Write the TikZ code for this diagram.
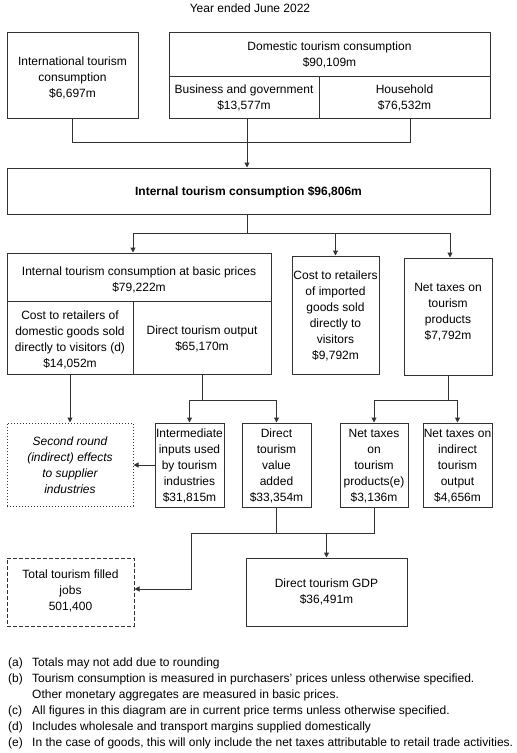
\documentclass[tikz,border=0pt]{standalone}
\usepackage{fontspec}
\setmainfont{Liberation Sans}
\usetikzlibrary{arrows.meta}
\definecolor{lc}{gray}{0.2}
% multi-line centred text, lowered by #1 pt inside its box
\newcommand\tx[2][0]{\raisebox{-#1pt}[\height][\depth]{\begin{tabular}{@{}c@{}}#2\end{tabular}}}
\begin{document}
\begin{tikzpicture}[x=1pt,y=-1pt,
  box/.style={draw=lc, line width=1pt, inner sep=0pt,
    font=\fontsize{12}{16}\selectfont, text=black},
  ln/.style={draw=lc, line width=1pt},
  arr/.style={ln, -{Triangle[length=5pt,width=5pt]}},
  dotbox/.style={dash pattern=on 1pt off 2pt},
  dashbox/.style={dash pattern=on 4pt off 2pt},
  fn/.style={inner sep=0pt, font=\fontsize{12}{16}\selectfont, anchor=base west}]
\useasboundingbox (0,0) rectangle (517,753);
% title
\node[inner sep=0pt, font=\fontsize{12}{16}\selectfont, anchor=base] (title) at (250,12.5) {Year ended June 2022};
% top row
\node[box, minimum width=131, minimum height=86] (intl) at (72.5,75) {\tx[3.5]{International tourism\\consumption\\\$6,697m}};
\node[box, minimum width=321, minimum height=44] (dom) at (329.5,54) {\tx[1]{Domestic tourism consumption\\\$90,109m}};
\node[box, minimum width=150, minimum height=42] (bus) at (244,97) {\tx[1]{Business and government\\\$13,577m}};
\node[box, minimum width=171, minimum height=42] (hh) at (404.5,97) {\tx[1]{Household\\\$76,532m}};
% internal
\node[box, minimum width=483, minimum height=46] (internal) at (248.5,191) {\tx[1]{\textbf{Internal tourism consumption \$96,806m}}};
% second row
\node[box, minimum width=264, minimum height=48] (basic) at (139,277) {\tx[3]{Internal tourism consumption at basic prices\\\$79,222m}};
\node[box, minimum width=126, minimum height=73] (cdom) at (70,337.5) {\tx[2.5]{Cost to retailers of\\domestic goods sold\\directly to visitors (d)\\\$14,052m}};
\node[box, minimum width=138, minimum height=73] (dto) at (202,337.5) {\tx[1.5]{Direct tourism output\\\$65,170m}};
\node[box, minimum width=87, minimum height=118] (imp) at (335.5,315) {\tx[1]{Cost to retailers\\of imported\\goods sold\\directly to\\visitors\\\$9,792m}};
\node[box, minimum width=88, minimum height=117] (ntax) at (448,316.5) {\tx[-4.5]{Net taxes on\\tourism\\products\\\$7,792m}};
% third row
\node[box, dotbox, minimum width=126, minimum height=83, font=\fontsize{12}{16}\selectfont\itshape] (second) at (70,464.5) {\tx[1.5]{Second round\\(indirect) effects\\to supplier\\industries}};
\node[box, minimum width=69, minimum height=84] (interm) at (189.5,465) {\tx[1.5]{Intermediate\\inputs used\\by tourism\\industries\\\$31,815m}};
\node[box, minimum width=69, minimum height=84] (dtva) at (276.5,465) {\tx[1.5]{Direct\\tourism\\value\\added\\\$33,354m}};
\node[box, minimum width=68, minimum height=84] (ntp) at (374,465) {\tx[1.5]{Net taxes\\on\\tourism\\products(e)\\\$3,136m}};
\node[box, minimum width=69, minimum height=84] (ntio) at (457.5,465) {\tx[1.5]{Net taxes on\\indirect\\tourism\\output\\\$4,656m}};
% bottom row
\node[box, dashbox, minimum width=127, minimum height=68] (jobs) at (70.5,592) {\tx[-1]{Total tourism filled\\jobs\\501,400}};
\node[box, minimum width=161, minimum height=68] (gdp) at (326.5,592) {\tx[0.5]{Direct tourism GDP\\\$36,491m}};
% connectors
\coordinate (j1) at (247,142);
\draw[ln] (intl.south) |- (j1);
\draw[ln] ([xshift=5.5pt]hh.south) |- (j1);
\draw[arr] ([xshift=3pt]bus.south) -- ([xshift=3pt]bus.south |- internal.north);
\coordinate (j2) at (247,233);
\draw[ln] ([xshift=-1.5pt]internal.south) -- (j2);
\draw[arr] (j2) -| ([xshift=-6pt]basic.north);
\draw[arr] (j2) -| (imp.north);
\draw[arr] (j2) -| ([xshift=2pt]ntax.north);
\draw[arr] (cdom.south) -- (second.north);
\coordinate (j3) at (202,400);
\draw[ln] (dto.south) -- (j3);
\draw[arr] (j3) -| (interm.north);
\draw[arr] (j3) -| (dtva.north);
\draw[arr] (interm.west) -- (interm.west -| second.east);
\coordinate (j4) at (448,400);
\draw[ln] (ntax.south) -- (j4);
\draw[arr] (j4) -| (ntp.north);
\draw[arr] (j4) -| (ntio.north);
\coordinate (j5) at (326.5,533);
\coordinate (j6) at (191,533);
\draw[ln] (dtva.south) |- (j5);
\draw[ln] (ntp.south) |- (j5);
\draw[arr] (j5) -- (gdp.north);
\draw[arr] (dtva.south |- j5) -- (j6) |- ([yshift=3pt]jobs.east);
% footnotes
\node[fn] (fa) at (8,666.5) {(a)};  \node[fn] (fat) at (32,666.5) {Totals may not add due to rounding};
\node[fn] (fb) at (8,682.5) {(b)};  \node[fn] (fbt) at (32,682.5) {Tourism consumption is measured in purchasers’ prices unless otherwise specified.};
\node[fn] (fbt2) at (32,698.5) {Other monetary aggregates are measured in basic prices.};
\node[fn] (fc) at (8,714.5) {(c)};  \node[fn] (fct) at (32,714.5) {All figures in this diagram are in current price terms unless otherwise specified.};
\node[fn] (fd) at (8,730.5) {(d)};  \node[fn] (fdt) at (32,730.5) {Includes wholesale and transport margins supplied domestically};
\node[fn] (fe) at (8,746.5) {(e)};  \node[fn] (fet) at (32,746.5) {In the case of goods, this will only include the net taxes attributable to retail trade activities.};
\end{tikzpicture}
\end{document}
